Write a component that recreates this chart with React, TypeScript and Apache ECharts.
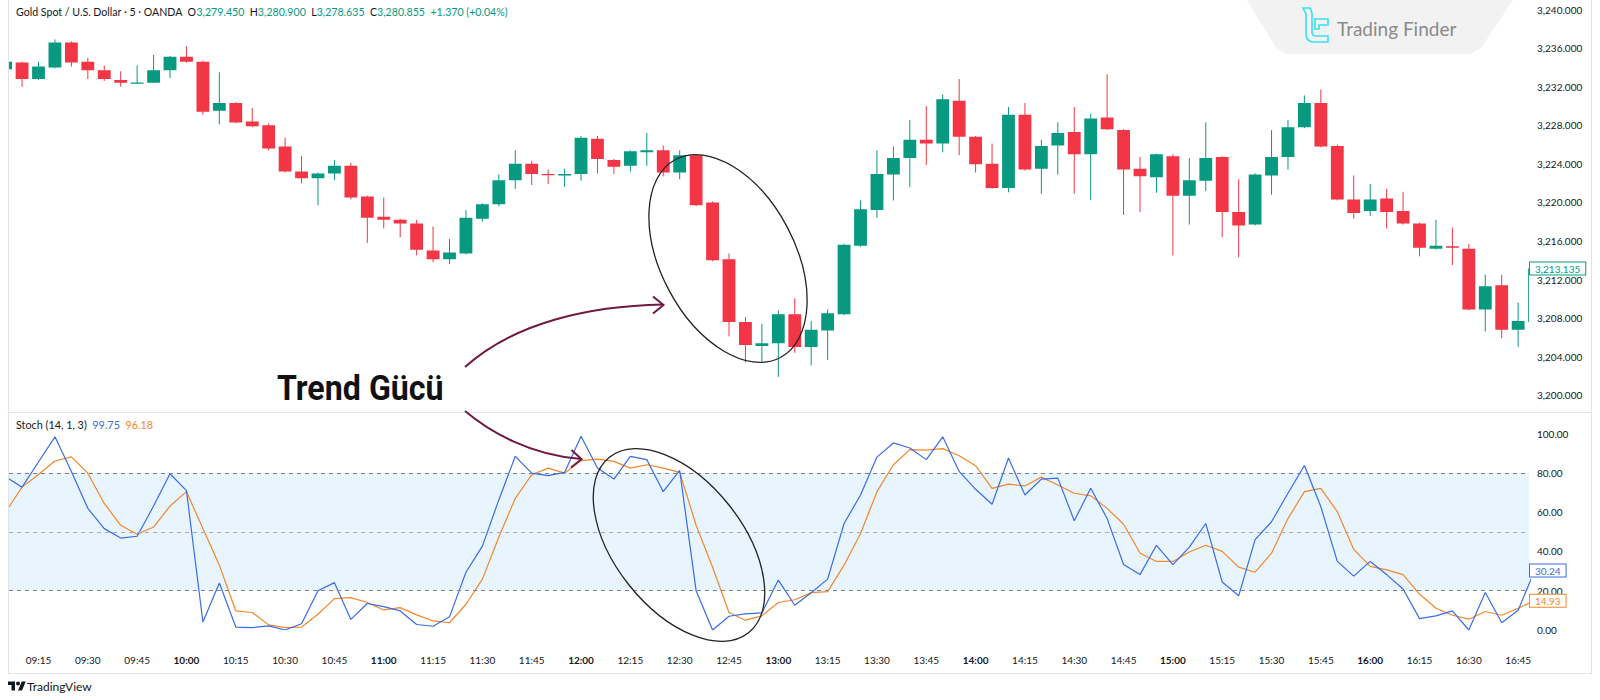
import React, { useEffect, useRef } from "react";
import * as echarts from "echarts";

// ---------- DATA ----------
const firstCandle = "09:05"; // 5-minute candles
const opens = [
  3233.8, 3234.5, 3232.8, 3234.0, 3236.6, 3234.6, 3233.7, 3232.7, 3232.35, 3232.4,
  3233.7, 3235.1, 3234.6, 3229.5, 3230.3, 3228.4, 3228.0, 3225.8, 3223.2, 3222.5,
  3223.0, 3223.8, 3220.6, 3218.5, 3218.2, 3217.8, 3215.0, 3214.1, 3214.7, 3218.3,
  3219.8, 3222.3, 3224.0, 3222.95, 3222.8, 3222.95, 3226.6, 3224.4, 3223.8, 3225.2,
  3225.4, 3223.1, 3224.9, 3220.0, 3214.1, 3207.6, 3205.1, 3205.4, 3208.4, 3205.0,
  3206.7, 3208.4, 3215.5, 3219.2, 3222.9, 3224.6, 3226.5, 3226.1, 3230.55, 3226.8,
  3224.0, 3221.5, 3229.1, 3223.5, 3225.9, 3227.3, 3225.0, 3228.8, 3227.5, 3223.5,
  3222.6, 3224.8, 3220.7, 3222.25, 3224.7, 3219.0, 3217.7, 3222.8, 3224.7, 3227.8,
  3230.3, 3225.85, 3220.3, 3219.1, 3220.4, 3219.1, 3217.8, 3215.2, 3215.45, 3215.2,
  3208.9, 3211.4, 3206.8, 3207.6,
];
const closes = [
  3234.6, 3232.8, 3234.1, 3236.6, 3234.5, 3233.7, 3232.8, 3232.4, 3232.45, 3233.7,
  3235.1, 3234.6, 3229.4, 3230.3, 3228.3, 3227.9, 3225.6, 3223.2, 3222.5, 3223.0,
  3223.8, 3220.5, 3218.4, 3218.2, 3217.8, 3215.1, 3214.1, 3214.8, 3218.4, 3219.8,
  3222.3, 3224.0, 3222.95, 3222.85, 3222.95, 3226.7, 3224.5, 3223.7, 3225.3, 3225.4,
  3223.1, 3224.9, 3219.7, 3214.0, 3207.6, 3205.2, 3205.4, 3208.4, 3205.0, 3206.8,
  3208.5, 3215.6, 3219.3, 3222.95, 3224.6, 3226.5, 3226.1, 3230.7, 3226.8, 3223.95,
  3221.5, 3229.1, 3223.4, 3225.85, 3227.2, 3225.0, 3228.7, 3227.6, 3223.4, 3222.7,
  3225.0, 3220.7, 3222.3, 3224.6, 3219.0, 3217.6, 3222.9, 3224.7, 3227.8, 3230.3,
  3225.8, 3220.3, 3218.9, 3220.3, 3219.0, 3217.8, 3215.3, 3215.5, 3215.3, 3208.9,
  3211.3, 3206.8, 3207.7, 3213.135,
];
const lows = [
  3233.7, 3232.0, 3232.7, 3233.9, 3234.1, 3232.8, 3232.6, 3232.0, 3232.3, 3232.4,
  3232.9, 3234.5, 3229.1, 3228.1, 3228.2, 3227.8, 3225.4, 3223.1, 3222.0, 3219.7,
  3222.3, 3220.3, 3215.8, 3217.3, 3216.4, 3214.5, 3213.8, 3213.6, 3214.6, 3218.0,
  3219.6, 3221.4, 3221.8, 3221.9, 3221.6, 3222.25, 3223.0, 3222.95, 3223.2, 3223.8,
  3222.7, 3222.4, 3219.6, 3213.9, 3206.1, 3203.4, 3203.5, 3201.9, 3204.4, 3203.1,
  3203.65, 3208.3, 3215.4, 3218.4, 3220.2, 3221.6, 3223.9, 3225.2, 3224.9, 3223.1,
  3221.4, 3221.05, 3223.3, 3220.9, 3222.9, 3220.9, 3220.25, 3227.5, 3218.7, 3219.0,
  3221.0, 3214.5, 3217.7, 3221.2, 3216.4, 3214.3, 3217.6, 3220.8, 3223.4, 3227.7,
  3225.7, 3220.2, 3218.3, 3218.6, 3217.3, 3217.7, 3214.4, 3215.1, 3213.5, 3208.8,
  3206.6, 3205.9, 3205.0, 3207.5,
];
const highs = [
  3234.7, 3234.6, 3234.6, 3236.9, 3236.7, 3235.0, 3234.2, 3233.6, 3234.2, 3235.3,
  3235.2, 3236.2, 3234.7, 3233.5, 3230.4, 3229.8, 3228.2, 3226.7, 3224.8, 3223.1,
  3224.4, 3224.1, 3220.7, 3220.5, 3218.3, 3218.2, 3217.5, 3216.2, 3219.2, 3219.9,
  3222.9, 3225.4, 3224.3, 3223.4, 3223.5, 3226.9, 3226.9, 3224.5, 3225.4, 3227.2,
  3225.9, 3225.4, 3225.0, 3220.1, 3214.7, 3208.1, 3207.4, 3208.8, 3210.05, 3207.7,
  3208.9, 3215.7, 3220.2, 3225.4, 3225.8, 3228.55, 3230.0, 3231.2, 3232.8, 3226.9,
  3226.1, 3229.9, 3230.3, 3226.5, 3228.3, 3229.9, 3229.2, 3233.3, 3227.6, 3224.7,
  3225.05, 3225.0, 3224.6, 3228.3, 3224.8, 3222.4, 3223.0, 3227.5, 3228.55, 3231.1,
  3231.7, 3226.0, 3222.8, 3221.9, 3221.4, 3221.1, 3217.9, 3218.2, 3217.4, 3215.7,
  3212.5, 3212.5, 3209.6, 3213.2,
];
const stochK = [
  78, 72.7, 85.5, 98.3, 80.7, 61.9, 51.6, 46.8, 47.7, 63.1,
  79.5, 70.9, 4.1, 23.9, 1.5, 1.2, 2.1, 0, 3.2, 20.0,
  24.1, 5.4, 13.5, 11.9, 9.7, 2.8, 1.9, 6.7, 29.4, 42.7,
  66.2, 88.4, 79.8, 78.6, 80.2, 98.6, 82.4, 76.8, 88.4, 86.7,
  70.4, 81.2, 20.0, 0, 7.0, 8.2, 8.7, 25.4, 12.6, 19.0,
  25.9, 54.2, 68.7, 88.0, 95.2, 92.6, 86.7, 98.3, 80.7, 71.6,
  64.0, 87.5, 68.7, 76.8, 77.3, 55.6, 72.1, 56.7, 33.3, 28.2,
  43.1, 33.3, 42.2, 54.2, 24.4, 17.4, 46.0, 55.1, 69.6, 83.7,
  62.7, 34.9, 27.4, 34.9, 28.2, 20.9, 5.8, 7.2, 9.7, 0,
  19.1, 3.7, 10.1, 30.24,
];
const stochD = [
  60, 72.7, 79.1, 86.0, 88.1, 79.8, 64.4, 53.3, 48.7, 52.4,
  63.1, 70.4, 51.6, 33.0, 9.7, 8.9, 2.6, 1.2, 1.5, 8.0,
  16.0, 16.5, 14.0, 10.2, 11.4, 7.7, 4.6, 3.7, 13.1, 25.9,
  47.3, 67.0, 79.0, 82.4, 79.8, 86.2, 87.0, 85.8, 82.4, 84.1,
  82.4, 80.2, 53.3, 31.9, 8.9, 5.0, 7.2, 14.0, 15.4, 19.0,
  19.5, 33.0, 49.1, 70.4, 84.1, 91.8, 91.5, 92.3, 88.7, 83.6,
  72.1, 74.2, 73.3, 77.8, 73.8, 69.6, 68.3, 61.9, 53.8, 39.2,
  34.9, 34.9, 39.7, 43.1, 40.0, 32.0, 29.4, 39.1, 56.7, 70.4,
  72.1, 60.2, 41.0, 32.4, 30.6, 28.2, 18.3, 11.1, 7.5, 5.5,
  9.4, 7.5, 11.1, 14.93,
];
const timeLabels = [
  "09:15", "09:30", "09:45", "10:00", "10:15", "10:30", "10:45", "11:00",
  "11:15", "11:30", "11:45", "12:00", "12:15", "12:30", "12:45", "13:00",
  "13:15", "13:30", "13:45", "14:00", "14:15", "14:30", "14:45", "15:00",
  "15:15", "15:30", "15:45", "16:00", "16:15", "16:30", "16:45",
];
const stochLevels = [80, 50, 20];
const lastPrice = 3213.135;
const lastK = 30.24;
const lastD = 14.93;
const legendK = "99.75";
const legendD = "96.18";

// ---------- STYLE ----------
const FONT = "Lato, 'Noto Sans', sans-serif";
const TEXT = "#131722";
const GREEN = "#089981";
const RED = "#F23645";
const BLUE = "#3a6ce6";
const ORANGE = "#f5862a";
const BORDER = "#e0e3eb";
const X_MIN = 0.206;
const X_MAX = 92.66;

const toMin = (t: string) => {
  const [h, m] = t.split(":").map(Number);
  return h * 60 + m;
};
const startMin = toMin(firstCandle);
const idxToTime = (v: number) => {
  const m = Math.round(startMin + v * 5);
  const hh = Math.floor(m / 60);
  const mm = m % 60;
  return `${hh < 10 ? "0" : ""}${hh}:${mm < 10 ? "0" : ""}${mm}`;
};
const fmtPrice = (v: number) => {
  const [ip, dp] = v.toFixed(3).split(".");
  return ip.replace(/\B(?=(\d{3})+(?!\d))/g, ",") + "." + dp;
};

let shapesRegistered = false;
function registerShapes() {
  if (shapesRegistered) return;
  shapesRegistered = true;
  echarts.graphic.registerShape(
    "tfLogo",
    echarts.graphic.extendPath(
      "M1 1 H8 L10 6 V25 Q10 29 14 29 H26 V35 H12 Q4 35 4 27 V7 Z M13 12 H26 V18 H17 V22 H13 Z",
      {}
    )
  );
  echarts.graphic.registerShape(
    "tvMark",
    echarts.graphic.extendPath(
      "M14 22H7V11H0V4h14v18zM28 22h-8l7.5-18h8L28 22zM24 8A4 4 0 1 1 16 8A4 4 0 1 1 24 8z",
      {}
    )
  );
}

export default function App() {
  const ref = useRef<HTMLDivElement>(null);

  useEffect(() => {
    if (!ref.current) return;
    registerShapes();
    const chart = echarts.init(ref.current, undefined, { renderer: "svg" });

    const candleData = opens.map((o, i) => [i, o, closes[i], lows[i], highs[i]]);
    const kData = stochK.map((v, i) => [i, v]);
    const dData = stochD.map((v, i) => [i, v]);
    const closeData = closes.map((v, i) => [i, v]);
    const labelIdx = timeLabels.map((t) => (toMin(t) - startMin) / 5);

    const boxLabel = (text: string, color: string) => ({
      show: true,
      position: "end",
      formatter: text,
      color,
      opacity: 1,
      borderColor: color,
      borderWidth: 1,
      backgroundColor: "#ffffff",
      padding: [1, 5, 1, 5],
      distance: 1,
      fontSize: 10,
      fontFamily: FONT,
    });

    // invisible helper series that only carry the last-value boxes (not clipped)
    const valueBox = (data: number[][], xi: number, yi: number, value: number, text: string, color: string) => ({
      type: "line",
      xAxisIndex: xi,
      yAxisIndex: yi,
      data,
      symbol: "none",
      silent: true,
      clip: false,
      z: 10,
      lineStyle: { color: "rgba(0,0,0,0)", width: 0 },
      markLine: {
        symbol: "none",
        silent: true,
        z: 10,
        lineStyle: { color: "rgba(0,0,0,0)", width: 0, type: "solid" },
        data: [{ yAxis: value, label: boxLabel(text, color) }],
      },
    });

    const option: any = {
      animation: false,
      backgroundColor: "#ffffff",
      grid: [
        { left: 9, right: 71, top: 9.6, height: 385.6 },
        { left: 9, right: 71, top: 433.5, height: 196.5 },
      ],
      xAxis: [
        { type: "value", gridIndex: 0, min: X_MIN, max: X_MAX, show: false },
        {
          type: "value",
          gridIndex: 1,
          min: X_MIN,
          max: X_MAX,
          axisLine: { show: false },
          axisTick: { show: false },
          splitLine: { show: false },
          axisLabel: {
            customValues: labelIdx,
            margin: 25,
            color: TEXT,
            fontSize: 10,
            fontFamily: FONT,
            formatter: (v: number) => {
              const s = idxToTime(v);
              return s.endsWith(":00") ? `{b|${s}}` : s;
            },
            rich: { b: { fontWeight: "bold", color: TEXT, fontSize: 10, fontFamily: FONT } },
          },
        },
      ],
      yAxis: [
        {
          type: "value",
          gridIndex: 0,
          position: "right",
          min: 3200,
          max: 3240,
          interval: 4,
          axisLine: { show: false },
          axisTick: { show: false },
          splitLine: { show: false },
          axisLabel: { margin: 8, color: TEXT, fontSize: 10, fontFamily: FONT, formatter: fmtPrice },
        },
        {
          type: "value",
          gridIndex: 1,
          position: "right",
          min: 0,
          max: 100,
          interval: 20,
          axisLine: { show: false },
          axisTick: { show: false },
          splitLine: { show: false },
          axisLabel: {
            margin: 8,
            color: TEXT,
            fontSize: 10,
            fontFamily: FONT,
            formatter: (v: number) => v.toFixed(2),
          },
        },
      ],
      series: [
        {
          type: "custom",
          name: "candles",
          xAxisIndex: 0,
          yAxisIndex: 0,
          clip: true,
          encode: { x: 0, y: [1, 2, 3, 4] },
          data: candleData,
          renderItem: (params: any, api: any) => {
            const x = api.value(0);
            const o = api.value(1);
            const c = api.value(2);
            const l = api.value(3);
            const h = api.value(4);
            const pO = api.coord([x, o]);
            const pC = api.coord([x, c]);
            const pL = api.coord([x, l]);
            const pH = api.coord([x, h]);
            const w = api.size([1, 0])[0] * 0.78;
            const color = c >= o ? GREEN : RED;
            const top = Math.min(pO[1], pC[1]);
            const bot = Math.max(pO[1], pC[1]);
            return {
              type: "group",
              children: [
                {
                  type: "line",
                  shape: { x1: pH[0], y1: pH[1], x2: pL[0], y2: pL[1] },
                  style: { stroke: color, lineWidth: 1 },
                },
                {
                  type: "rect",
                  shape: { x: pO[0] - w / 2, y: top, width: w, height: Math.max(bot - top, 1.3) },
                  style: { fill: color },
                },
              ],
            };
          },
        },
        valueBox(closeData, 0, 0, lastPrice, fmtPrice(lastPrice), GREEN),
        {
          type: "line",
          name: "%K",
          xAxisIndex: 1,
          yAxisIndex: 1,
          data: kData,
          symbol: "none",
          lineStyle: { color: BLUE, width: 1.2 },
          markArea: {
            silent: true,
            itemStyle: { color: "rgba(33,150,243,0.1)" },
            data: [[{ yAxis: 20 }, { yAxis: 80 }]],
          },
          markLine: {
            symbol: "none",
            silent: true,
            label: { show: false },
            data: stochLevels.map((lv) => ({
              yAxis: lv,
              lineStyle: {
                color: lv === 50 ? "#a9abb3" : "#80838d",
                type: [4, 4],
                width: 1,
              },
            })),
          },
          z: 3,
        },
        {
          type: "line",
          name: "%D",
          xAxisIndex: 1,
          yAxisIndex: 1,
          data: dData,
          symbol: "none",
          lineStyle: { color: ORANGE, width: 1.2 },
          z: 2,
        },
        valueBox(kData, 1, 1, lastK, lastK.toFixed(2), BLUE),
        valueBox(dData, 1, 1, lastD, lastD.toFixed(2), ORANGE),
      ],
      graphic: {
        elements: [
          // watermark
          {
            type: "polygon",
            z: 0,
            silent: true,
            shape: {
              points: [
                [1247, 0], [1276, 48], [1286, 54], [1471, 54], [1481, 48], [1513, 0],
              ],
            },
            style: { fill: "#f2f2f2" },
          },
          {
            type: "tfLogo",
            x: 1302,
            y: 7,
            z: 1,
            silent: true,
            style: { stroke: "#33e2f0", fill: null, lineWidth: 1.6 },
          },
          {
            type: "text",
            x: 1337,
            y: 28,
            z: 1,
            silent: true,
            style: {
              text: "Trading Finder",
              fontSize: 19,
              fontFamily: FONT,
              fill: "#8a8a8a",
              verticalAlign: "middle",
            },
          },
          // header
          {
            type: "text",
            x: 16,
            y: 12,
            z: 20,
            silent: true,
            style: {
              text:
                "{a|Gold Spot / U.S. Dollar · 5 · OANDA  O}{g|3,279.450}{a|  H}{g|3,280.900}{a|  L}{g|3,278.635}{a|  C}{g|3,280.855}{g|  +1.370 (+0.04%)}",
              verticalAlign: "middle",
              rich: {
                a: { fontSize: 10.6, fontFamily: FONT, fill: TEXT },
                g: { fontSize: 10.6, fontFamily: FONT, fill: GREEN },
              },
            },
          },
          // stoch legend
          {
            type: "text",
            x: 16,
            y: 424,
            z: 20,
            silent: true,
            style: {
              text: `{a|Stoch (14, 1, 3)}{b|  ${legendK}}{o|  ${legendD}}`,
              verticalAlign: "middle",
              rich: {
                a: { fontSize: 10.8, fontFamily: FONT, fill: TEXT },
                b: { fontSize: 10.8, fontFamily: FONT, fill: BLUE },
                o: { fontSize: 10.8, fontFamily: FONT, fill: ORANGE },
              },
            },
          },
          // borders
          { type: "line", z: 5, silent: true, shape: { x1: 8.5, y1: 0, x2: 8.5, y2: 673.5 }, style: { stroke: BORDER, lineWidth: 1 } },
          { type: "line", z: 5, silent: true, shape: { x1: 1591.5, y1: 0, x2: 1591.5, y2: 673.5 }, style: { stroke: BORDER, lineWidth: 1 } },
          { type: "line", z: 5, silent: true, shape: { x1: 8, y1: 412.5, x2: 1592, y2: 412.5 }, style: { stroke: BORDER, lineWidth: 1 } },
          { type: "line", z: 5, silent: true, shape: { x1: 8, y1: 673.5, x2: 1592, y2: 673.5 }, style: { stroke: BORDER, lineWidth: 1 } },
          // ellipses
          {
            type: "ellipse",
            x: 728,
            y: 258.5,
            rotation: 0.487,
            z: 30,
            silent: true,
            shape: { cx: 0, cy: 0, rx: 67, ry: 112 },
            style: { fill: null, stroke: "#222222", lineWidth: 1.3 },
          },
          {
            type: "ellipse",
            x: 679,
            y: 545,
            rotation: 0.67,
            z: 30,
            silent: true,
            shape: { cx: 0, cy: 0, rx: 64, ry: 112 },
            style: { fill: null, stroke: "#222222", lineWidth: 1.3 },
          },
          // arrows
          {
            type: "bezierCurve",
            z: 30,
            silent: true,
            shape: { x1: 465, y1: 367, cpx1: 515, cpy1: 322, cpx2: 590, cpy2: 306, x2: 663, y2: 304.5 },
            style: { fill: null, stroke: "#6e1a42", lineWidth: 2 },
          },
          {
            type: "polyline",
            z: 30,
            silent: true,
            shape: { points: [[653, 296.5], [663.5, 305], [653, 313.5]] },
            style: { fill: null, stroke: "#6e1a42", lineWidth: 2 },
          },
          {
            type: "bezierCurve",
            z: 30,
            silent: true,
            shape: { x1: 465, y1: 411, cpx1: 490, cpy1: 432, cpx2: 530, cpy2: 455, x2: 581, y2: 459 },
            style: { fill: null, stroke: "#6e1a42", lineWidth: 2 },
          },
          {
            type: "polyline",
            z: 30,
            silent: true,
            shape: { points: [[571.5, 450], [581.5, 459.3], [571, 467.5]] },
            style: { fill: null, stroke: "#6e1a42", lineWidth: 2 },
          },
          // annotation text
          {
            type: "text",
            x: 277,
            y: 388.5,
            z: 30,
            scaleX: 0.92,
            silent: true,
            style: {
              text: "Trend Gücü",
              fontSize: 35,
              fontWeight: "bold",
              fontFamily: "Roboto, 'Noto Sans', sans-serif",
              fill: "#111111",
              verticalAlign: "middle",
            },
          },
          // TradingView footer
          {
            type: "tvMark",
            x: 8,
            y: 679.5,
            scaleX: 0.5,
            scaleY: 0.5,
            z: 20,
            silent: true,
            style: { fill: TEXT },
          },
          {
            type: "text",
            x: 27,
            y: 686,
            z: 20,
            silent: true,
            style: {
              text: "TradingView",
              fontSize: 12,
              fontFamily: FONT,
              fill: TEXT,
              verticalAlign: "middle",
            },
          },
        ],
      },
    };

    chart.setOption(option);
    return () => chart.dispose();
  }, []);

  return (
    <div
      ref={ref}
      style={{ position: "fixed", left: 0, top: 0, width: 1600, height: 700, background: "#fff" }}
    />
  );
}
